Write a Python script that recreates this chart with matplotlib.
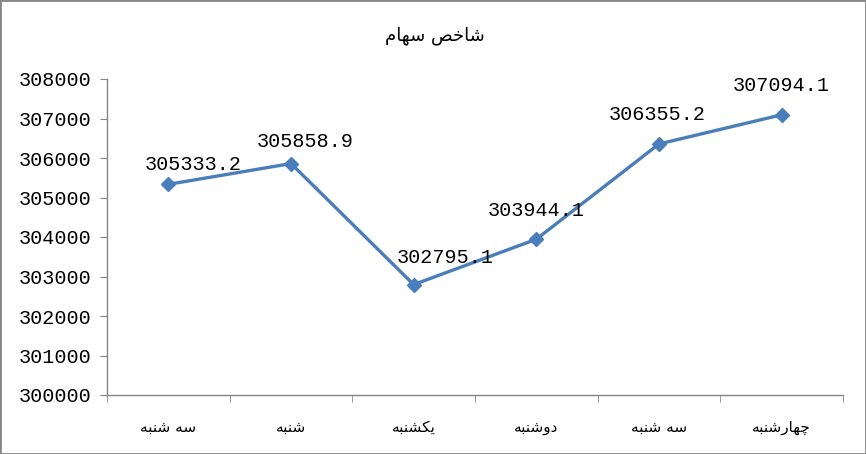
import matplotlib
matplotlib.use("Agg")
import matplotlib.pyplot as plt
from matplotlib.patches import Rectangle

# شکل‌دهی ساده حروف فارسی (matplotlib خودش حروف را نمی‌چسباند)
FORMS = {
    "ا": ("\uFE8D", "\uFE8E", None, None),
    "ب": ("\uFE8F", "\uFE90", "\uFE91", "\uFE92"),
    "خ": ("\uFEA5", "\uFEA6", "\uFEA7", "\uFEA8"),
    "د": ("\uFEA9", "\uFEAA", None, None),
    "ر": ("\uFEAD", "\uFEAE", None, None),
    "س": ("\uFEB1", "\uFEB2", "\uFEB3", "\uFEB4"),
    "ش": ("\uFEB5", "\uFEB6", "\uFEB7", "\uFEB8"),
    "ص": ("\uFEB9", "\uFEBA", "\uFEBB", "\uFEBC"),
    "م": ("\uFEE1", "\uFEE2", "\uFEE3", "\uFEE4"),
    "ن": ("\uFEE5", "\uFEE6", "\uFEE7", "\uFEE8"),
    "ه": ("\uFEE9", "\uFEEA", "\uFEEB", "\uFEEC"),
    "و": ("\uFEED", "\uFEEE", None, None),
    "ی": ("\uFBFC", "\uFBFD", "\uFBFE", "\uFBFF"),
    "ک": ("\uFB8E", "\uFB8F", "\uFB90", "\uFB91"),
    "چ": ("\uFB7A", "\uFB7B", "\uFB7C", "\uFB7D"),
}


def shape(text):
    out = []
    for i, ch in enumerate(text):
        if ch not in FORMS:
            out.append(ch)
            continue
        iso, fin, ini, med = FORMS[ch]
        prev = text[i - 1] if i > 0 else ""
        nxt = text[i + 1] if i + 1 < len(text) else ""
        join_prev = prev in FORMS and FORMS[prev][2] is not None
        join_next = ini is not None and nxt in FORMS
        if join_prev and join_next:
            out.append(med)
        elif join_prev:
            out.append(fin)
        elif join_next:
            out.append(ini)
        else:
            out.append(iso)
    return "".join(out)[::-1]


# داده‌ها
days = ["سه شنبه", "شنبه", "یکشنبه", "دوشنبه", "سه شنبه", "چهارشنبه"]
values = [305333.2, 305858.9, 302795.1, 303944.1, 306355.2, 307094.1]
yticks = [300000, 301000, 302000, 303000, 304000, 305000, 306000, 307000, 308000]
title = "شاخص سهام"

# جابجایی برچسب‌ها (پیکسل)
label_dx = [25, 14, 32, 0, -2, 0]
label_dy = [20, 22, 27, 29, 29, 29]

fig = plt.figure(figsize=(8.66, 4.54), dpi=100)
ax = fig.add_axes([107 / 866, 1 - 395 / 454, 736 / 866, 316 / 454])

x = [i + 0.5 for i in range(len(values))]
ax.plot(x, values, color="#4A7EBB", linewidth=2.4, marker="D", markersize=7,
        markerfacecolor="#4A7EBB", markeredgecolor="#4A7EBB", zorder=3)

for xi, v, dx, dy in zip(x, values, label_dx, label_dy):
    ax.annotate(f"{v:.1f}", (xi, v), xytext=(dx * 0.72, dy * 0.72),
                textcoords="offset points", ha="center", va="center",
                family="Liberation Mono", fontsize=14.5, color="black", zorder=4)

ax.set_xlim(0, len(values))
ax.set_ylim(yticks[0], yticks[-1])
ax.set_yticks(yticks)
ax.set_yticklabels([str(t) for t in yticks], family="Liberation Mono", fontsize=14.5)

ax.set_xticks(x)
ax.set_xticklabels([shape(d) for d in days], family="DejaVu Sans", fontsize=11)
ax.set_xticks(range(len(values) + 1), minor=True)
ax.tick_params(axis="x", which="major", length=0, pad=18)
ax.tick_params(axis="x", which="minor", length=5, color="#868686")
ax.tick_params(axis="y", length=5, color="#868686", pad=6)

for s in ["top", "right"]:
    ax.spines[s].set_visible(False)
for s in ["left", "bottom"]:
    ax.spines[s].set_color("#868686")
    ax.spines[s].set_linewidth(1)

fig.text(435 / 866, 1 - 36 / 454, shape(title), ha="center", va="center",
         family="DejaVu Sans", fontsize=13)

fig.patches.append(Rectangle((0, 0), 1, 1, transform=fig.transFigure, fill=False,
                             edgecolor="#868686", linewidth=2))

fig.savefig("out.png", dpi=100)
